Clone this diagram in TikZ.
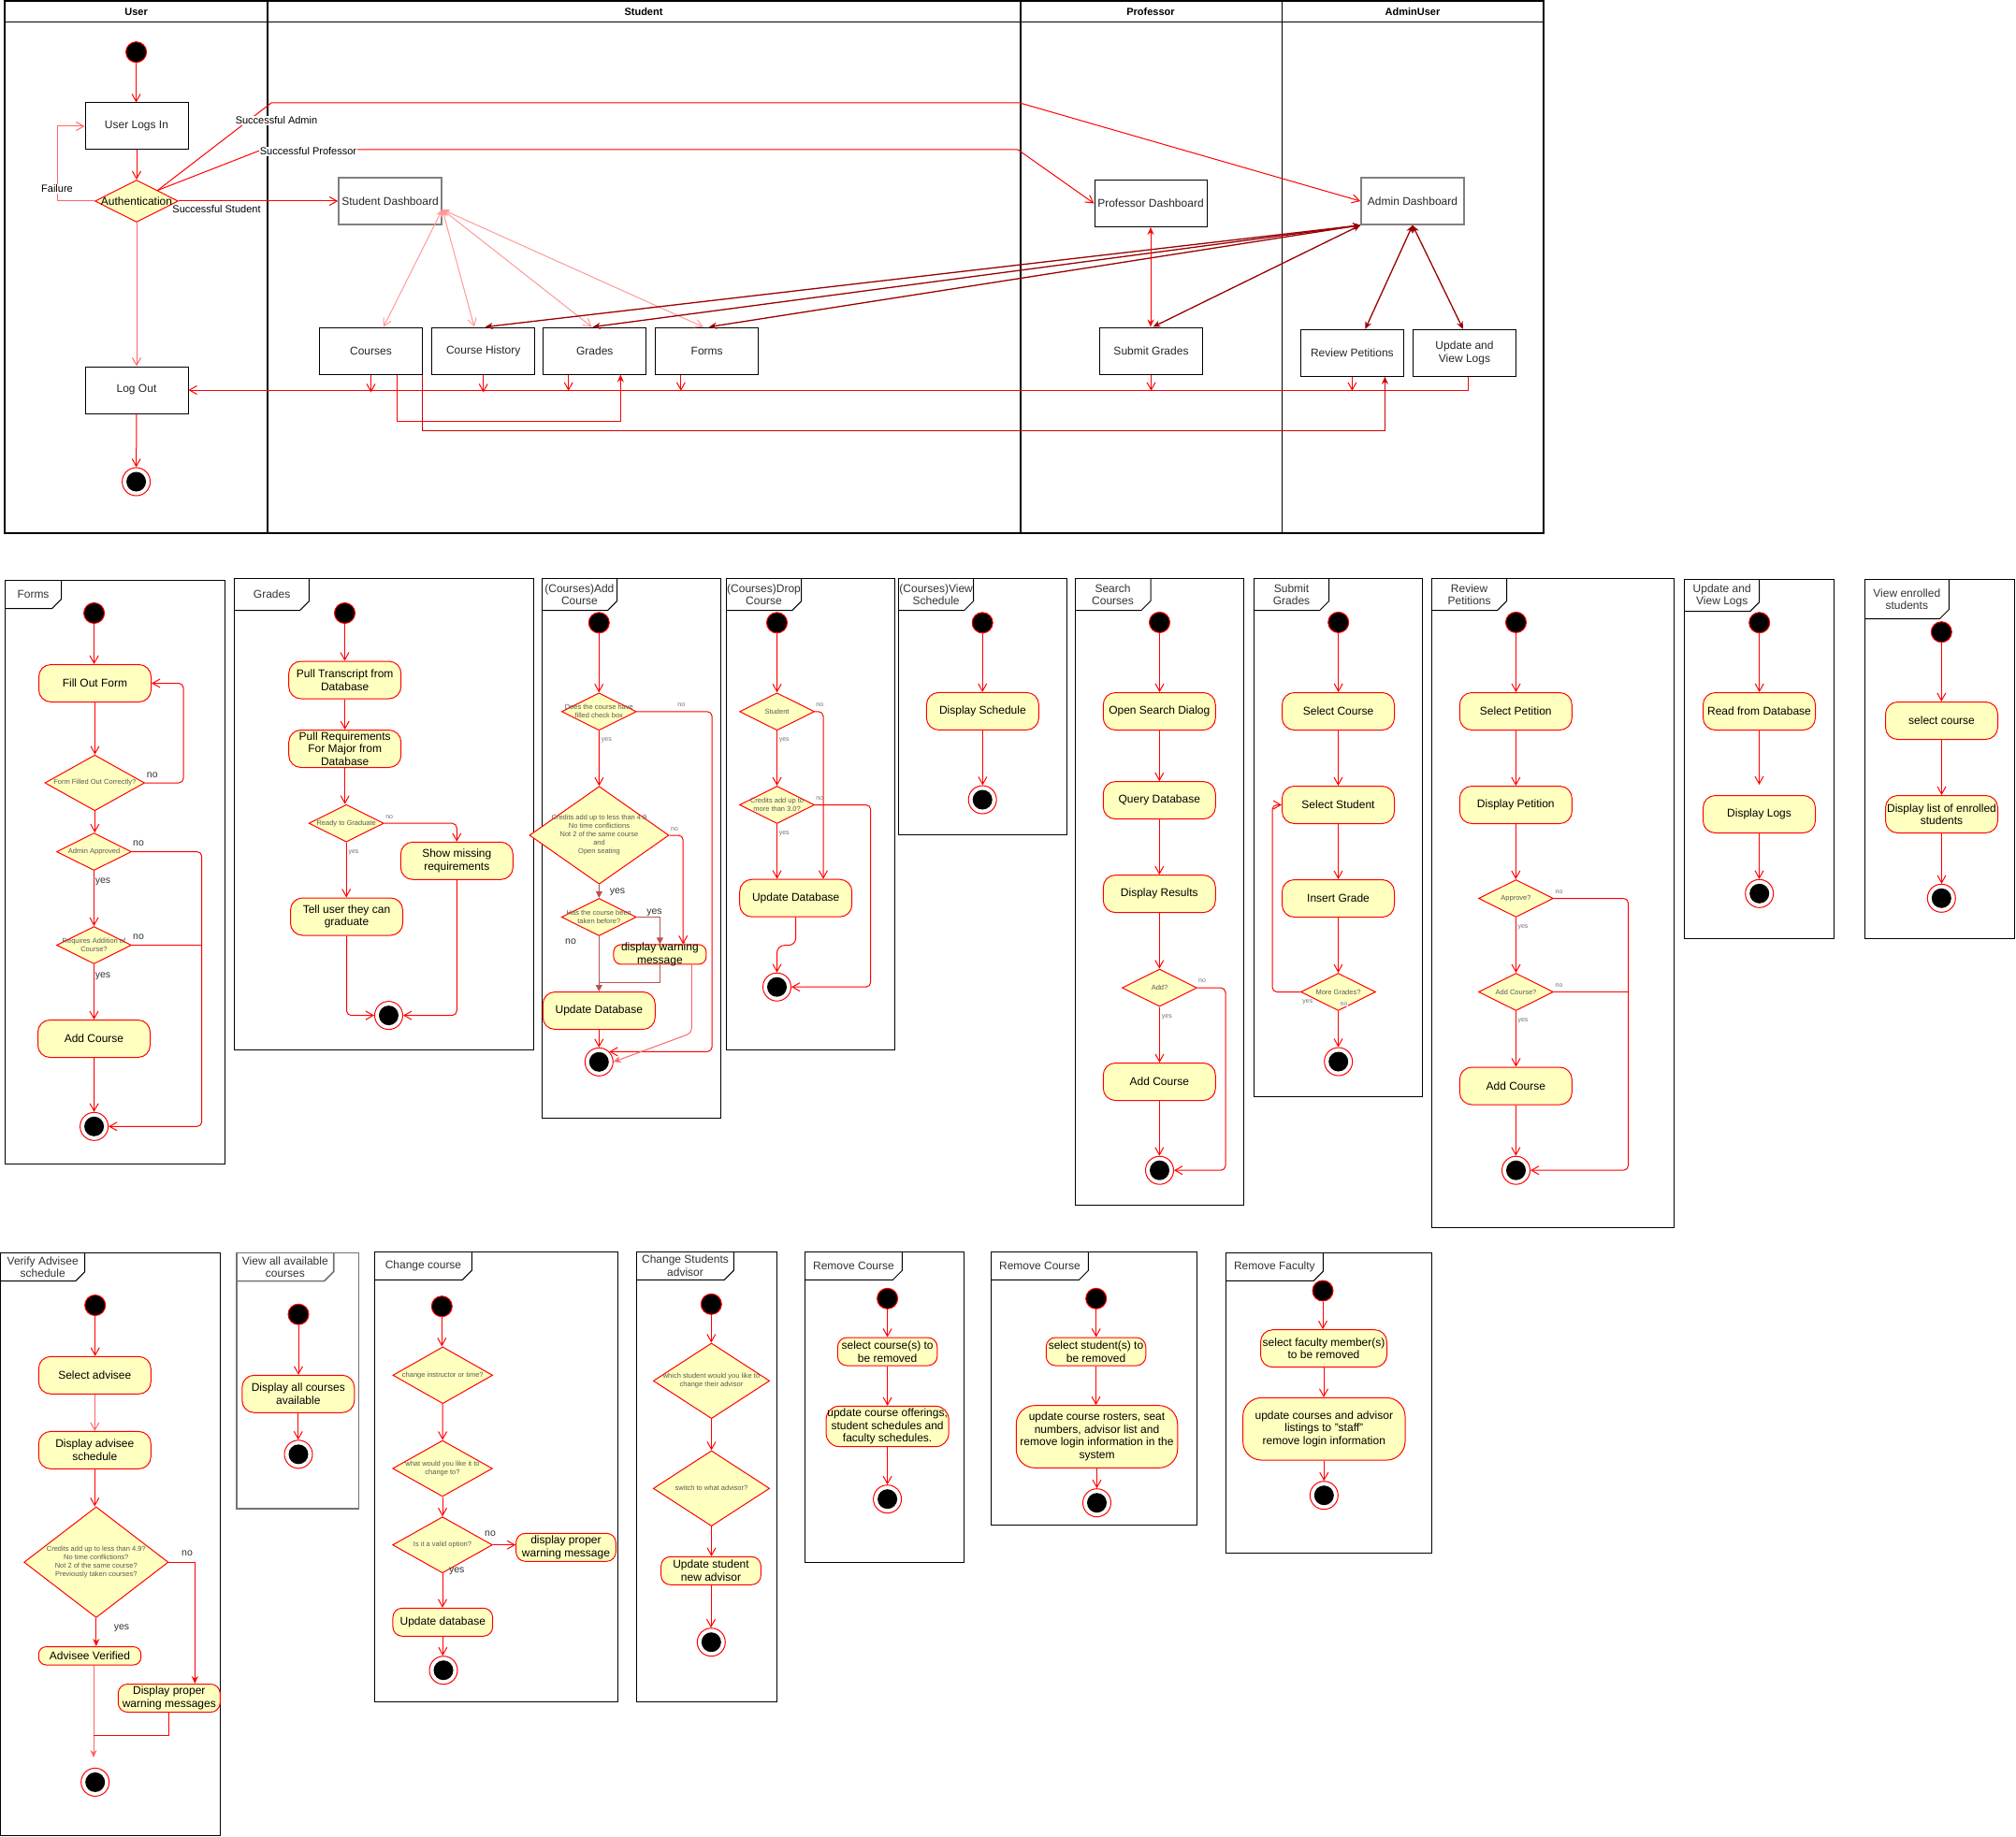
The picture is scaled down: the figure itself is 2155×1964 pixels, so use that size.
\documentclass[tikz,border=0pt]{standalone}
\usepackage{fontspec}
\setmainfont{Liberation Sans}
\usetikzlibrary{arrows.meta,shapes.geometric,calc}
\definecolor{yel}{HTML}{FFFFC0}
\definecolor{pk}{HTML}{FF9999}
\definecolor{dred}{HTML}{990000}
\definecolor{brn}{HTML}{B85450}
\definecolor{mred}{HTML}{CC0000}
\definecolor{lr}{HTML}{FF6666}
\newcommand\Panel[9][]{%
  \draw[line width=1pt,#1] (#2,#3) rectangle (#4,#5);
  \draw[line width=1pt,#1] (#2+#6,#3) -- ++(0,#7-10) -- ++(-10,10) -- (#2,#3+#7);
  \node[tab] (#8) at (#2+#6/2,#3+#7/2) {#9};}
\newcommand\Dia[5][]{\node[dia,#1,label={[dtx,name=#2t]center:{#5}}] (#2) at (#3,#4) {};}
\begin{document}
\begin{tikzpicture}[x=1pt,y=-1pt,line width=1pt,
  every node/.style={inner sep=0pt},
  box/.style={draw=black, fill=white, minimum width=110pt, minimum height=50pt, align=center, font=\fontsize{12}{14}\selectfont, text=black!85},
  gbox/.style={box, draw=black!50, line width=1.6pt},
  act/.style={draw=red, fill=yel, rounded corners=13pt, minimum width=120pt, minimum height=40pt, align=center, font=\fontsize{12}{13.5}\selectfont},
  sact/.style={act, minimum width=106.7pt, minimum height=30pt, rounded corners=10pt},
  dia/.style={diamond, draw=red, fill=yel, minimum width=80pt, minimum height=40pt},
  dtx/.style={align=center, font=\fontsize{7.5}{9}\selectfont, text=black!65},
  stc/.style={circle, draw=red, fill=black, minimum size=22pt},
  enc/.style={circle, draw=red, fill=white, minimum size=30pt, path picture={\fill[black] (path picture bounding box.center) circle[radius=10.5pt];}},
  tab/.style={align=center, font=\fontsize{12}{13.5}\selectfont, text=black!80},
  hdr/.style={font=\fontsize{11}{13}\selectfont\bfseries},
  lbl/.style={font=\fontsize{11}{13}\selectfont},
  yn/.style={font=\fontsize{10.5}{12}\selectfont, text=black!80},
  sm/.style={font=\fontsize{7}{8}\selectfont, text=black!55},
  oa/.style={draw=red, -{Straight Barb[length=8pt,width=9pt]}},
  fa/.style={draw=red, -{Stealth[length=8pt,width=7pt]}},
  dfa/.style={{Stealth[length=8pt,width=7pt]}-{Stealth[length=8pt,width=7pt]}},
  rc/.style={rounded corners=5pt}]
\useasboundingbox (0,0) rectangle (2155,1964);
\fill[white] (0,0) rectangle (2155,1964);

% ================= TOP SWIMLANE =================
\draw[line width=1.2pt] (5,1) rectangle (1650,570);
\draw (5,23.5) -- (1650,23.5);
\draw[line width=2pt] (286,1) -- (286,570);
\draw[line width=2pt] (1090.5,1) -- (1090.5,570);
\draw (1370,1) -- (1370,570);
\node[hdr] (hUser) at (145.6,12.5) {User};
\node[hdr] (hStudent) at (688,12.5) {Student};
\node[hdr] (hProf) at (1230,12.5) {Professor};
\node[hdr] (hAdmin) at (1510,12.5) {AdminUser};

\node[stc] (uS) at (145.6,55.7) {};
\node[box] (uLogin) at (146,135) {User Logs In};
\node[dia, minimum width=89pt, minimum height=45pt, label={[name=uAutht, font=\fontsize{12}{14}\selectfont]center:Authentication}] (uAuth) at (146,215) {};
\node[box] (uLogout) at (146,417) {Log Out};
\node[enc] (uE) at (145.6,515) {};
\node[gbox] (sDash) at (417,215) {Student Dashboard};
\node[box] (sCourses) at (396.5,375) {Courses};
\node[box] (sHist) at (516.7,375) {Course History};
\node[box] (sGrades) at (635.8,375) {Grades};
\node[box] (sForms) at (755.7,375) {Forms};
\node[box, minimum width=120pt] (pDash) at (1230,217.5) {Professor Dashboard};
\node[box] (pSubmit) at (1230.5,375) {Submit Grades};
\node[gbox] (aDash) at (1510,215) {Admin Dashboard};
\node[box] (aReview) at (1445.4,377.3) {Review Petitions};
\node[box] (aLogs) at (1565.5,377.3) {Update and\\View Logs};

\draw[oa] (uS) -- (uS |- uLogin.north);
\draw[oa] (uLogin) -- (uAuth);
\draw[oa, draw=lr] (uAuth) -- (uLogout);
\draw[oa] (uLogout) -- (uE);
\draw[oa, draw=lr] (uAuth.west) -- (61,215) -- (61,135) -- (uLogin.west);
\node[lbl, fill=white, inner sep=1pt] (lFail) at (61,202) {Failure};
\draw[oa] (uAuth.north east) -- (290,110) -- (1090,110) -- (aDash.west);
\node[lbl, fill=white, inner sep=1pt] (lAdm) at (295.5,129) {Successful Admin};
\draw[oa] (uAuth.north east) -- (280,160) -- (1088,160) -- (pDash.west);
\node[lbl, fill=white, inner sep=1pt] (lProf) at (329.5,162) {Successful Professor};
\draw[oa] (uAuth.east) -- (sDash.west);
\node[lbl] (lStu) at (231.5,224) {Successful Student};

\draw[pk, {Stealth[length=8pt,width=7pt]}-{Straight Barb[length=8pt,width=9pt]}] ([yshift=-9pt]sDash.east) -- ([xshift=13.5pt]sCourses.north);
\draw[pk, {Stealth[length=8pt,width=7pt]}-{Straight Barb[length=8pt,width=9pt]}] ([yshift=-9pt]sDash.east) -- ([xshift=-9.7pt]sHist.north);
\draw[pk, {Stealth[length=8pt,width=7pt]}-{Straight Barb[length=8pt,width=9pt]}] ([yshift=-9pt]sDash.east) -- ([xshift=-3.2pt]sGrades.north);
\draw[pk, {Stealth[length=8pt,width=7pt]}-{Straight Barb[length=8pt,width=9pt]}] ([yshift=-9pt]sDash.east) -- ([xshift=-4pt]sForms.north);

\draw[dred, line width=1.3pt, dfa] (aDash.south west) -- ([xshift=2pt]sHist.north);
\draw[dred, line width=1.3pt, dfa] (aDash.south west) -- ([xshift=-2pt]sGrades.north);
\draw[dred, line width=1.3pt, dfa] (aDash.south west) -- ([xshift=2.3pt]sForms.north);
\draw[dred, line width=1.3pt, dfa] (aDash.south west) -- ([xshift=2pt]pSubmit.north);
\draw[red, dfa] (pDash.south) -- (pDash.south |- pSubmit.north);
\draw[dred, line width=1.3pt, dfa] (aDash.south) -- ([xshift=14pt]aReview.north);
\draw[dred, line width=1.3pt, dfa] (aDash.south) -- ([xshift=-1.6pt]aLogs.north);

\draw[oa] ([xshift=4.2pt]aLogs.south) |- (uLogout.east);
\draw[oa] (sCourses.south) -- ++(0,19);
\draw[oa] (sHist.south) -- ++(0,19);
\draw[oa] ([xshift=-28.1pt]sGrades.south) -- ++(0,17.3);
\draw[oa] ([xshift=-27.8pt]sForms.south) -- ++(0,17.3);
\draw[oa] (pSubmit.south) -- ++(0,17.3);
\draw[oa] (aReview.south) -- ++(0,15);
\draw[red, -{Stealth[length=8pt,width=7pt]}] ([xshift=27.5pt]sCourses.south) -- ++(0,50) -| ([xshift=27.5pt]sGrades.south);
\draw[mred, -{Stealth[length=8pt,width=7pt]}] ([xshift=-1pt]sCourses.south east) -- ++(0,59.8) -| ([xshift=35pt]aReview.south);

% ================= FORMS =================
\Panel{5.5}{620.3}{240.5}{1244.8}{60}{30.3}{tForms}{Forms}
\node[stc] (fS) at (100.6,655.5) {};
\node[act] (fFill) at (101.5,730.5) {Fill Out Form};
\Dia[minimum width=106.6pt, minimum height=59.6pt]{fD1}{101.3}{837}{Form Filled Out Correctly?}
\Dia{fD2}{100.5}{910.6}{Admin Approved}
\Dia{fD3}{100.5}{1010.5}{Requires Addition of\\Course?}
\node[act] (fAdd) at (100.5,1110.5) {Add Course};
\node[enc] (fE) at (100.6,1204.3) {};
\draw[oa] (fS) -- (fS |- fFill.north);
\draw[oa] (fFill.south) -- (fFill.south |- fD1.north);
\draw[oa, rc] (fD1.east) -- ++(41,0) |- (fFill.east);
\draw[oa] (fD1.south) -- (fD1.south |- fD2.north);
\draw[oa] (fD2) -- (fD3);
\draw[oa] (fD3) -- (fAdd);
\draw[oa] (fAdd) -- (fE);
\draw[oa, rc] (fD2.east) -- ++(74.7,0) |- (fE.east);
\draw[red, rc] (fD3.east) -- ++(74.7,0);
\node[yn] (fN1) at (162.8,828.4) {no};
\node[yn] (fN2) at (148,901.4) {no};
\node[yn] (fY2) at (110,943) {yes};
\node[yn] (fN3) at (148,1001.4) {no};
\node[yn] (fY3) at (110,1043.5) {yes};

% ================= GRADES =================
\Panel{250.8}{618.2}{570.9}{1122}{79.6}{34.5}{tGrades}{Grades}
\node[stc] (gS) at (368.5,655.5) {};
\node[act] (gP1) at (368.7,727) {Pull Transcript from\\Database};
\node[act] (gP2) at (368.7,800.5) {Pull Requirements\\For Major from\\Database};
\Dia{gD}{370.2}{880.2}{Ready to Graduate}
\node[act] (gShow) at (488.3,920.3) {Show missing\\requirements};
\node[act] (gTell) at (370.5,980) {Tell user they can\\graduate};
\node[enc] (gE) at (415.5,1085.6) {};
\draw[oa] (gS) -- (gS |- gP1.north);
\draw[oa] (gP1) -- (gP2);
\draw[oa] (gP2.south) -- (gP2.south |- gD.north);
\draw[oa, rc] (gD.east) -| (gShow.north);
\draw[oa] (gD.south) -- (gD.south |- gTell.north);
\draw[oa, rc] (gTell.south) |- (gE.west);
\draw[oa, rc] (gShow.south) |- (gE.east);
\node[sm] (gN) at (416.2,873.4) {no};
\node[sm] (gY) at (378,911.5) {yes};

% ================= (Courses)Add Course =================
\Panel{579.2}{618.8}{770.5}{1195.1}{80.3}{33.8}{tAdd}{(Courses)Add\\Course}
\node[stc] (adS) at (640.3,665.8) {};
\Dia{adD1}{640.3}{760.8}{Does the course have\\filled check box}
\Dia[minimum width=149pt, minimum height=104.6pt]{adD2}{640.5}{893}{Credits add up to less than 4.9\\No time conflictions\\Not 2 of the same course\\and\\Open seating}
\Dia{adD3}{640.3}{980.5}{Has the course been\\taken before?}
\node[act, minimum width=99pt, minimum height=21pt, rounded corners=8pt, label={[name=adWt, align=center, font=\fontsize{12}{13.5}\selectfont]center:{display warning\\message}}] (adW) at (705.4,1020.4) {};
\node[act] (adUpd) at (640.3,1080.5) {Update Database};
\node[enc] (adE) at (640.3,1135.3) {};
\coordinate (adJ) at (640.3,1050.3);
\draw[oa] (adS) -- (adD1);
\draw[oa] (adD1) -- (adD2);
\draw[brn, -{Triangle[length=7pt,width=7pt]}] (adD2.south) -- (adD3.north);
\draw[oa, rc] (adD1.east) -- ++(80.3,0) |- (adE.north east);
\draw[oa, rc] (adD2.east) -| ([xshift=24.8pt]adW.north);
\draw[brn, -{Triangle[length=7pt,width=7pt]}] (adD3.east) -| (adW.north);
\draw[brn, -{Triangle[length=7pt,width=7pt]}] (adD3.south) -- (adUpd.north);
\draw[brn] (adW.south) |- (adJ);
\draw[oa] (adUpd) -- (adE);
\draw[lr, rc, -{Stealth[length=8pt,width=7pt]}] ([xshift=34pt]adW.south) -- ++(0,73) -- (adE.east);
\node[sm] (adN1) at (728.3,753.4) {no};
\node[sm] (adY1) at (648.4,791.8) {yes};
\node[sm] (adN2) at (721,886.6) {no};
\node[yn] (adY2) at (660,953.6) {yes};
\node[yn] (adY3) at (699.5,975.4) {yes};
\node[yn] (adN3) at (610,1006.3) {no};

% ================= (Courses)Drop Course =================
\Panel{776.4}{618.8}{956.6}{1122.2}{80.3}{33.8}{tDrop}{(Courses)Drop\\Course}
\node[stc] (drS) at (830.5,665.8) {};
\Dia{drD1}{830.6}{760.8}{Student}
\Dia{drD2}{830.6}{860.5}{Credits add up to\\more than 3.0?}
\node[act] (drUpd) at (850.7,960.2) {Update Database};
\node[enc] (drE) at (830.5,1055.2) {};
\draw[oa] (drS) -- (drD1);
\draw[oa] (drD1) -- (drD2);
\draw[oa] (drD2.south) -- (drD2.south |- drUpd.north);
\draw[oa, rc] (drD1.east) -| ([xshift=29.3pt]drUpd.north);
\draw[oa, rc] (drD2.east) -- ++(59.6,0) |- (drE.east);
\draw[oa, rounded corners=8pt] (drUpd.south) -- ++(0,30) -| (drE.north);
\node[sm] (drN1) at (876.3,753.4) {no};
\node[sm] (drY1) at (838.2,791.8) {yes};
\node[sm] (drN2) at (876.3,853.2) {no};
\node[sm] (drY2) at (838.2,891.5) {yes};

% ================= (Courses)View Schedule =================
\Panel{960.7}{618.8}{1140.8}{892.3}{79.9}{33.8}{tVs}{(Courses)View\\Schedule}
\node[stc] (vsS) at (1050.2,665.8) {};
\node[act] (vsD) at (1050.4,760.4) {Display Schedule};
\node[enc] (vsE) at (1050.2,855) {};
\draw[oa] (vsS) -- (vsS |- vsD.north);
\draw[oa] (vsD.south) -- (vsD.south |- vsE.north);

% ================= Search Courses =================
\Panel{1149.1}{618.6}{1329.5}{1288.2}{80.9}{33.9}{tSc}{Search\\Courses}
\node[stc] (scS) at (1239.5,665.4) {};
\node[act] (scOpen) at (1239.3,760.5) {Open Search Dialog};
\node[act] (scQuery) at (1239.3,855.6) {Query Database};
\node[act] (scDisp) at (1239.3,955.6) {Display Results};
\Dia{scD}{1239.5}{1056.1}{Add?}
\node[act] (scAdd) at (1239.3,1156.5) {Add Course};
\node[enc] (scE) at (1239.5,1251.2) {};
\draw[oa] (scS) -- (scS |- scOpen.north);
\draw[oa] (scOpen) -- (scQuery);
\draw[oa] (scQuery) -- (scDisp);
\draw[oa] (scDisp.south) -- (scDisp.south |- scD.north);
\draw[oa] (scD.south) -- (scD.south |- scAdd.north);
\draw[oa] (scAdd.south) -- (scAdd.south |- scE.north);
\draw[oa, rc] (scD.east) -- ++(30,0) |- (scE.east);
\node[sm] (scN) at (1285.1,1049) {no};
\node[sm] (scY) at (1247.4,1087.3) {yes};

% ================= Submit Grades =================
\Panel{1340.3}{618.6}{1520.6}{1172.1}{80.4}{33.9}{tSg}{Submit\\Grades}
\node[stc] (sgS) at (1430.7,665.4) {};
\node[act] (sgCourse) at (1430.5,760.5) {Select Course};
\node[act] (sgStud) at (1430.5,860.5) {Select Student};
\node[act] (sgIns) at (1430.5,960.5) {Insert Grade};
\Dia{sgD}{1430.5}{1060.5}{More Grades?}
\node[enc] (sgE) at (1430.7,1135) {};
\draw[oa] (sgS) -- (sgS |- sgCourse.north);
\draw[oa] (sgCourse) -- (sgStud);
\draw[oa] (sgStud) -- (sgIns);
\draw[oa] (sgIns) -- (sgD);
\draw[oa] (sgD.south) -- (sgD.south |- sgE.north);
\draw[oa, rc] (sgD.west) -- ++(-30,0) |- (sgStud.west);
\node[sm] (sgY) at (1397.9,1071.3) {yes};
\node[sm, fill=white, inner sep=0.5pt] (sgN) at (1436.5,1073.5) {no};

% ================= Review Petitions =================
\Panel{1530.6}{618.6}{1789.7}{1312.3}{80}{33.9}{tRp}{Review\\Petitions}
\node[stc] (rpS) at (1620.5,665.4) {};
\node[act] (rpSel) at (1620.3,760.5) {Select Petition};
\node[act] (rpDisp) at (1620.3,860.5) {Display Petition};
\Dia{rpD1}{1620.5}{960.5}{Approve?}
\Dia{rpD2}{1620.5}{1060.5}{Add Course?}
\node[act] (rpAdd) at (1620.3,1161) {Add Course};
\node[enc] (rpE) at (1620.5,1251.2) {};
\draw[oa] (rpS) -- (rpS |- rpSel.north);
\draw[oa] (rpSel) -- (rpDisp);
\draw[oa] (rpDisp.south) -- (rpDisp.south |- rpD1.north);
\draw[oa] (rpD1) -- (rpD2);
\draw[oa] (rpD2.south) -- (rpD2.south |- rpAdd.north);
\draw[oa] (rpAdd.south) -- (rpAdd.south |- rpE.north);
\draw[oa, rc] (rpD1.east) -- ++(79.5,0) |- (rpE.east);
\draw[red, rc] (rpD2.east) -- ++(79.5,0);
\node[sm] (rpN1) at (1666.6,953.4) {no};
\node[sm] (rpY1) at (1628,991.3) {yes};
\node[sm] (rpN2) at (1666.6,1053.4) {no};
\node[sm] (rpY2) at (1628,1091.3) {yes};

% ================= Update and View Logs =================
\Panel{1800.7}{619.7}{1960.7}{1003.3}{80}{34}{tLg}{Update and\\View Logs}
\node[stc] (lgS) at (1880.7,665.7) {};
\node[act] (lgRead) at (1880.5,760.5) {Read from Database};
\coordinate (lgGap) at (1880.5,839);
\node[act] (lgDisp) at (1880.5,870.5) {Display Logs};
\node[enc] (lgE) at (1880.7,955.3) {};
\draw[oa] (lgS) -- (lgS |- lgRead.north);
\draw[oa] (lgRead.south) -- (lgGap);
\draw[oa] (lgDisp.south) -- (lgDisp.south |- lgE.north);

% ================= View enrolled students =================
\Panel{1993.3}{619.7}{2153.3}{1003.3}{90}{42}{tVe}{View enrolled\\students}
\node[stc] (veS) at (2075.3,675.7) {};
\node[act] (veSel) at (2075.5,770.5) {select course};
\node[act] (veDisp) at (2075.5,870.5) {Display list of enrolled\\students};
\node[enc] (veE) at (2075.3,960.3) {};
\draw[oa] (veS) -- (veS |- veSel.north);
\draw[oa] (veSel) -- (veDisp);
\draw[oa] (veDisp.south) -- (veDisp.south |- veE.north);

% ================= Verify Advisee schedule =================
\Panel{0.7}{1339.3}{235.3}{1962.8}{90}{30.3}{tVa}{Verify Advisee\\schedule}
\node[stc] (vaS) at (101.7,1395.5) {};
\node[act] (vaSel) at (101.3,1470.3) {Select advisee};
\node[act] (vaDisp) at (101.3,1550.4) {Display advisee\\schedule};
\Dia[minimum width=154.3pt, minimum height=118.5pt]{vaD}{102.8}{1670.2}{Credits add up to less than 4.9?\\No time conflictions?\\Not 2 of the same course?\\Previously taken courses?}
\node[act, minimum width=109.4pt, minimum height=19.4pt, rounded corners=8pt] (vaOK) at (96,1770.3) {Advisee Verified};
\node[act, minimum width=109pt, minimum height=30pt, rounded corners=10pt] (vaWarn) at (180.8,1815.5) {Display proper\\warning messages};
\node[enc] (vaE) at (101.7,1905.4) {};
\coordinate (vaJ) at (100,1879);
\coordinate (vaK) at (100,1855.3);
\draw[oa] (vaS) -- (vaS |- vaSel.north);
\draw[oa, draw=lr] (vaSel) -- (vaDisp);
\draw[oa] (vaDisp.south) -- (vaDisp.south |- vaD.north);
\draw[fa] (vaD.south) -- (vaD.south |- vaOK.north);
\draw[fa] (vaD.east) -| ([xshift=27.5pt]vaWarn.north);
\draw[fa, draw=lr] ([xshift=4pt]vaOK.south) -- (vaJ);
\draw[red] (vaWarn.south) |- (vaK);
\node[yn] (vaN) at (200,1660.8) {no};
\node[yn] (vaY) at (130,1740.4) {yes};

% ================= View all available courses =================
\Panel[draw=black!55, line width=1.6pt]{253}{1339.3}{383.3}{1613}{103.7}{30.3}{tAv}{View all available\\courses}
\node[stc] (avS) at (319,1405.2) {};
\node[act] (avDisp) at (318.8,1490.3) {Display all courses\\available};
\node[enc] (avE) at (319,1554.8) {};
\draw[oa] (avS) -- (avS |- avDisp.north);
\draw[oa] (avDisp.south) -- (avDisp.south |- avE.north);

% ================= Change course =================
\Panel{400.7}{1338.3}{660.7}{1819.3}{103.6}{30}{tCc}{Change course}
\node[stc] (ccS) at (472.3,1396.7) {};
\Dia[minimum width=106.7pt, minimum height=60.7pt]{ccD1}{473.3}{1470.3}{change instructor or time?}
\Dia[minimum width=106.7pt, minimum height=60pt]{ccD2}{473}{1570}{what would you like it to\\change to?}
\Dia[minimum width=106.7pt, minimum height=60pt]{ccD3}{473}{1651.7}{Is it a valid option?}
\node[sact] (ccW) at (605,1654.3) {display proper\\warning message};
\node[sact] (ccU) at (473.3,1734.3) {Update database};
\node[enc] (ccE) at (474,1785.7) {};
\draw[oa] (ccS) -- (ccS |- ccD1.north);
\draw[oa] (ccD1) -- (ccD2);
\draw[oa] (ccD2) -- (ccD3);
\draw[oa] (ccD3.east) -- (ccD3.east -| ccW.west);
\draw[oa] (ccD3.south) -- (ccD3.south |- ccU.north);
\draw[oa] (ccU.south) -- (ccU.south |- ccE.north);
\node[yn] (ccN) at (524,1640) {no};
\node[yn] (ccY) at (488.3,1680) {yes};

% ================= Change Students advisor =================
\Panel{680.7}{1338.3}{830.7}{1819.3}{103.6}{30}{tCa}{Change Students\\advisor}
\node[stc] (caS) at (760.3,1394.3) {};
\Dia[minimum width=124.3pt, minimum height=80.7pt]{caD1}{760.5}{1476.3}{which student would you like to\\change their advisor}
\Dia[minimum width=124.3pt, minimum height=80.7pt]{caD2}{760.5}{1591.3}{switch to what advisor?}
\node[sact] (caU) at (760,1679.3) {Update student\\new advisor};
\node[enc] (caE) at (760.3,1755.7) {};
\draw[oa] (caS) -- (caS |- caD1.north);
\draw[oa] (caD1) -- (caD2);
\draw[oa] (caD2.south) -- (caD2.south |- caU.north);
\draw[oa] (caU.south) -- (caU.south |- caE.north);

% ================= Remove Course (1) =================
\Panel{860.6}{1338.3}{1030.5}{1670}{103.8}{30}{tR1}{Remove Course}
\node[stc] (r1S) at (948.6,1388.3) {};
\node[sact, minimum width=106.5pt] (r1Sel) at (948.6,1445) {select course(s) to\\be removed};
\node[act, minimum width=131pt, minimum height=43.3pt, rounded corners=14pt] (r1Upd) at (948.6,1525) {update course offerings,\\student schedules and\\faculty schedules.};
\node[enc] (r1E) at (948.6,1602.7) {};
\draw[oa] (r1S) -- (r1Sel);
\draw[oa] (r1Sel) -- (r1Upd);
\draw[oa] (r1Upd) -- (r1E);

% ================= Remove Course (2) =================
\Panel{1059.5}{1338.3}{1279.1}{1630}{103.9}{30}{tR2}{Remove Course}
\node[stc] (r2S) at (1171.7,1388.3) {};
\node[sact, minimum width=106.5pt] (r2Sel) at (1171.5,1445) {select student(s) to\\be removed};
\node[act, minimum width=172.5pt, minimum height=66.7pt, rounded corners=20pt] (r2Upd) at (1172.5,1536) {update course rosters, seat\\numbers, advisor list and\\remove login information in the\\system};
\node[enc] (r2E) at (1172.5,1606.7) {};
\draw[oa] (r2S) -- (r2S |- r2Sel.north);
\draw[oa] (r2Sel.south) -- (r2Sel.south |- r2Upd.north);
\draw[oa] (r2Upd) -- (r2E);

% ================= Remove Faculty =================
\Panel{1310.4}{1339.3}{1530.9}{1660.7}{103.9}{30}{tRf}{Remove Faculty}
\node[stc] (rfS) at (1414,1380) {};
\node[act, minimum width=135pt, minimum height=40pt] (rfSel) at (1415,1441.7) {select faculty member(s)\\to be removed};
\node[act, minimum width=173.4pt, minimum height=66.7pt, rounded corners=20pt] (rfUpd) at (1415.3,1527.7) {update courses and advisor\\listings to "staff"\\remove login information};
\node[enc] (rfE) at (1415.3,1598.7) {};
\draw[oa] (rfS) -- (rfS |- rfSel.north);
\draw[oa] (rfSel) -- (rfSel |- rfUpd.north);
\draw[oa] (rfUpd) -- (rfE);
\end{tikzpicture}
\end{document}
